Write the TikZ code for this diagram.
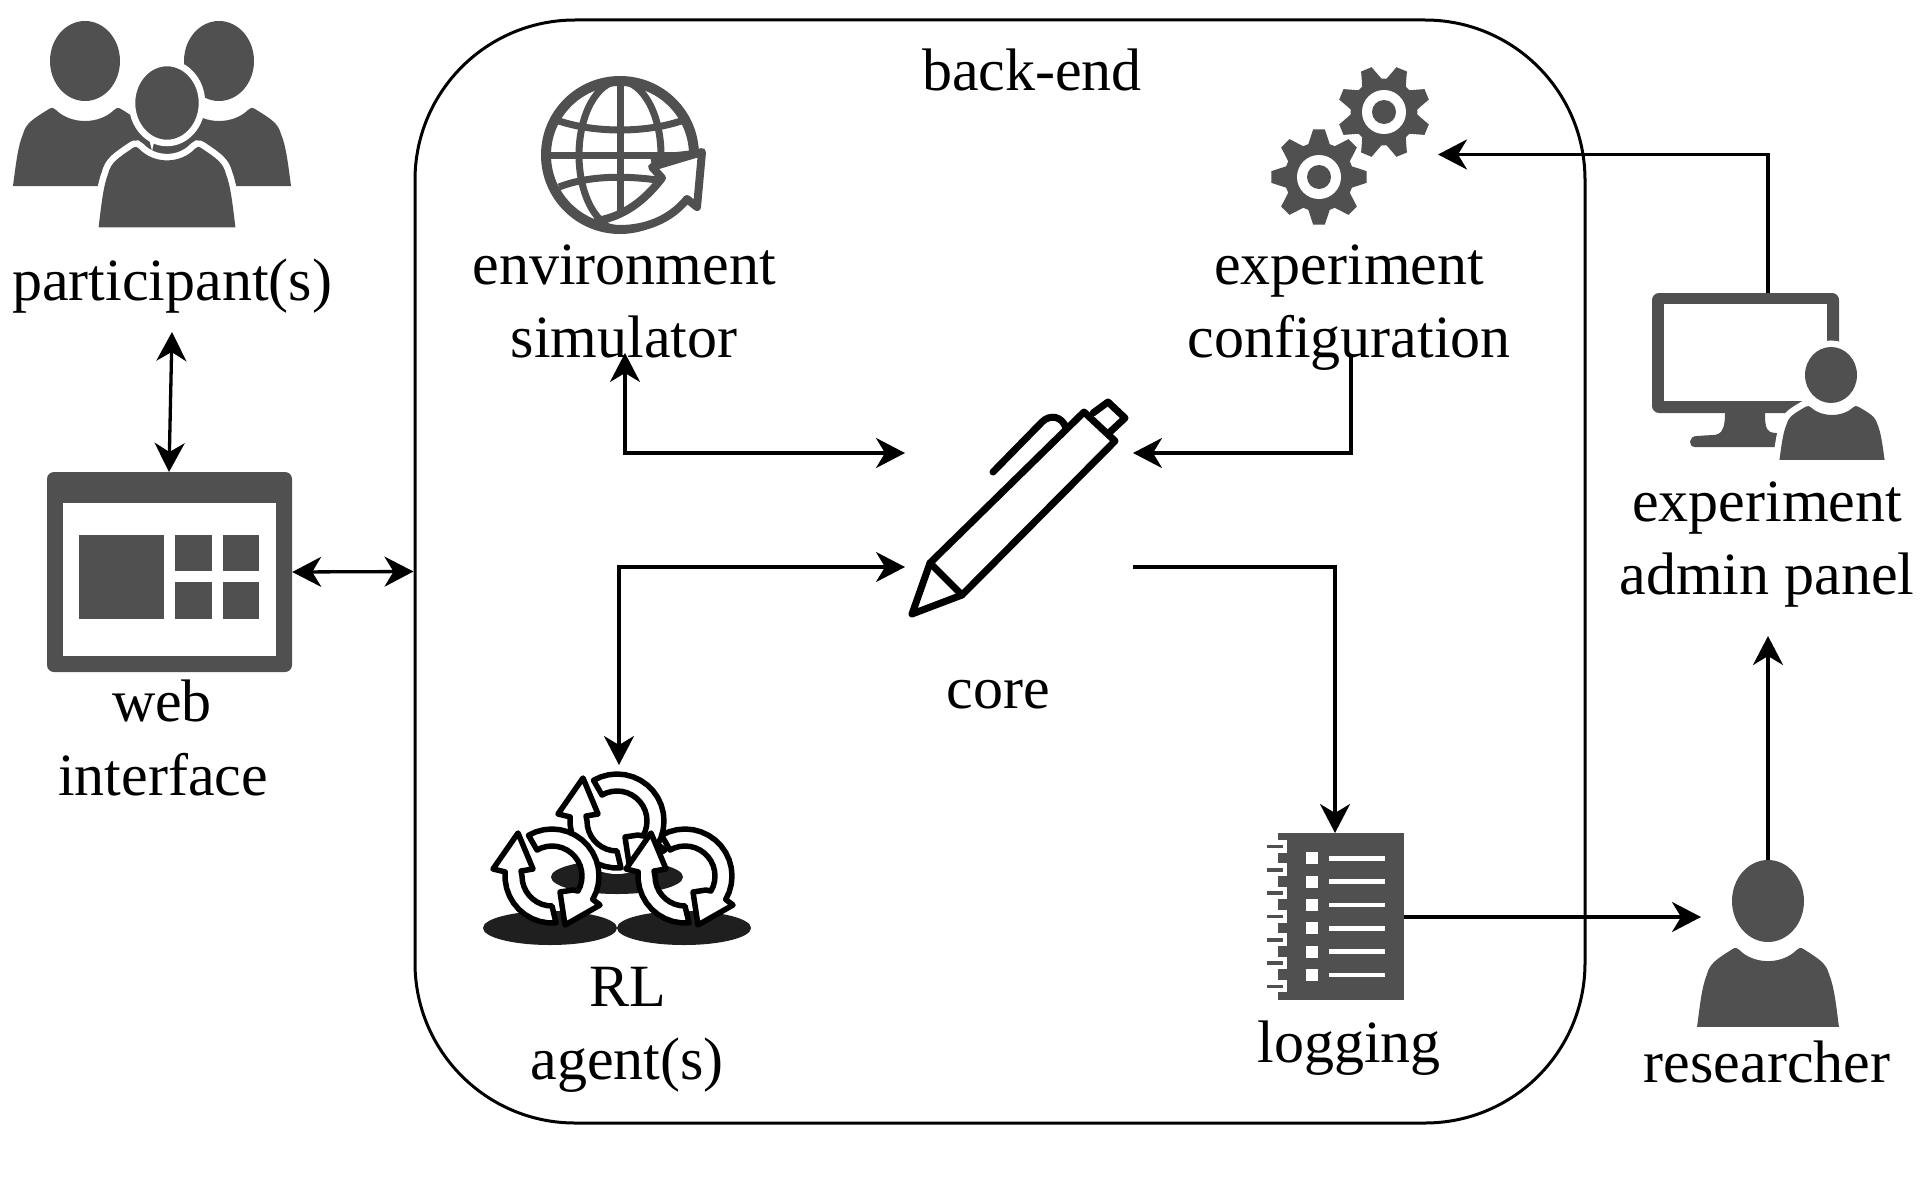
\documentclass[tikz,border=0pt]{standalone}
\usepackage{fontspec}
\setmainfont{Liberation Serif}
\usetikzlibrary{arrows.meta}
\definecolor{ink}{HTML}{505050}
\tikzset{
  label/.style={anchor=base,inner sep=0pt,align=center,font=\fontsize{60}{73}\selectfont},
  conn/.style={line width=3.3pt,black,>={Stealth[length=29pt,width=30pt,inset=9pt]}},
  panel/.style={fill=ink,inner sep=0pt,rounded corners=7pt},
  pen/.style={draw=black,line width=7pt,line join=round,line cap=round},
  loopshape/.style={draw=black,fill=white,line width=5.5pt,line join=round},
  halo/.style={fill=ink,draw=white,line width=13pt}
}
\newcommand\bodyat[5]{%
  \path[#5,shift={(#1,#2)},xscale=#3,yscale=#4]
    (-72,78) .. controls (-69,55) and (-67,38) .. (-62,26)
    .. controls (-59,15) and (-52,11) .. (-36,1)
    .. controls (-33,-1) and (-31,0) .. (-29,2)
    .. controls (-22,9) and (-11,13) .. (0,13)
    .. controls (11,13) and (22,9) .. (29,2)
    .. controls (31,0) and (33,-1) .. (36,1)
    .. controls (52,11) and (59,15) .. (62,26)
    .. controls (67,38) and (69,55) .. (72,78) -- cycle;}
\newcommand\gearat[4]{%
  \begin{scope}[shift={(#1,#2)}]
    \fill[ink] ({#4-18}:{.72*#3})
      \foreach \k in {0,...,7}{
        -- ({#4+45*\k-18}:{.72*#3}) -- ({#4+45*\k-7}:{#3})
        -- ({#4+45*\k+7}:{#3}) -- ({#4+45*\k+18}:{.72*#3})
      } -- cycle;
    \fill[white] (0,0) circle (22);
    \fill[ink] (0,0) circle (12);
  \end{scope}}
\newcommand\loopat[2]{%
  \begin{scope}[shift={(#1,#2)}]
    % left arrow, pointing up
    \path[loopshape] (4,47)
      \foreach \a in {85,95,...,185}{ -- (\a:47) }
      -- (-59,-7) -- (-34,-43) -- (-19,-7) -- (-31,-5)
      \foreach \a in {180,170,...,90}{ -- (\a:30) } -- cycle;
    % right arrow, pointing down
    \path[loopshape] (240:47)
      \foreach \a in {250,260,...,390}{ -- (\a:47) }
      -- (48,29) -- (13,49) -- (8,16) -- (21,14)
      \foreach \a in {30,20,...,-120}{ -- (\a:30) } -- cycle;
  \end{scope}}
\begin{document}
\begin{tikzpicture}[x=1pt,y=-1pt]
\useasboundingbox (0,0) rectangle (1924,1204);
\fill[white] (0,0) rectangle (1924,1204);

% back-end frame
\node[draw=black,line width=3pt,rounded corners=160pt,minimum width=1170pt,minimum height=1103pt,inner sep=0pt] (backend) at (1000,571.5) {};

% participants
\fill[ink] (85,61) ellipse [x radius=35,y radius=40];
\fill[ink] (219,61) ellipse [x radius=35,y radius=40];
\bodyat{85}{108}{1}{1}{fill=ink}
\bodyat{219}{108}{1}{1}{fill=ink}
\fill[ink,draw=white,line width=6.5pt] (167,103) ellipse [x radius=35,y radius=40];
\bodyat{167}{147}{.95}{1.03}{halo}
\fill[white] (90,227.5) rectangle (250,240);
\bodyat{167}{147}{.95}{1.03}{fill=ink}

% web interface
\node[panel,minimum width=245pt,minimum height=200pt] (web) at (169.5,572) {};
\fill[white] (63,503) rectangle (276,656);
\fill[ink] (79,535) rectangle (164,619);
\fill[ink] (175,535) rectangle (212,571);
\fill[ink] (223,535) rectangle (259,571);
\fill[ink] (175,582) rectangle (212,619);
\fill[ink] (223,582) rectangle (259,619);

% globe
\begin{scope}[draw=ink,line width=7pt]
  \draw (546,155) -- (694,155);
  \draw (620,81) -- (620,229);
  \draw (620,155) ellipse [x radius=41,y radius=74];
  \draw (559,121) .. controls (595,133) and (645,133) .. (681,121);
  \draw (559,187) .. controls (590,175) and (630,175) .. (670,182);
\end{scope}
\draw[ink,line width=10pt] (620,155) circle (74);
\fill[ink] (650,155) -- (694,150) -- (652,167) -- cycle;
\path[draw=ink,fill=white,line width=8pt,line join=round]
  (597,221) .. controls (625,216) and (645,200) .. (662,178) -- (652,167) -- (702,152)
  -- (697,207) -- (687,199) .. controls (670,220) and (645,229) .. (620,229)
  .. controls (612,229) and (604,227) .. (597,221) -- cycle;

% gears
\gearat{1384}{112}{46.5}{22.5}
\gearat{1319}{177}{48}{0}

% pen (core)
\draw[pen] (912,614) -- (930,563) -- (1084,412) -- (1115,441) -- (962,595) -- cycle;
\draw[pen] (930,563) -- (962,595);
\draw[pen] (1093,413) -- (1108,402) -- (1125,418) -- (1110,432);
\draw[pen] (993,472) -- (1042,422) .. controls (1050,414) and (1062,416) .. (1066,428);

% RL agents
\fill[black!88] (550,928) ellipse [x radius=67,y radius=17];
\fill[black!88] (684,928) ellipse [x radius=67,y radius=17];
\fill[black!88] (617,877) ellipse [x radius=66,y radius=17];
\fill[white] (617,821) circle (53);
\loopat{617}{821}
\loopat{552}{876}
\loopat{685}{876}

% notebook
\node[fill=ink,inner sep=0pt,minimum width=126pt,minimum height=167pt] (notes) at (1341,916.5) {};
\foreach \i in {0,...,6}{
  \fill[white] ({1278},{840+23.33*\i}) rectangle (1287,{852.5+23.33*\i});
  \fill[ink] (1267,{844.7+23.33*\i}) rectangle (1283,{848.3+23.33*\i});
}
\foreach \i in {0,...,5}{
  \fill[white] (1306,{852.3+23.33*\i}) rectangle (1318,{864.3+23.33*\i});
  \fill[white] (1329,{856+23.33*\i}) rectangle (1385,{860.5+23.33*\i});
}

% monitor with admin
\fill[ink,rounded corners=7pt] (1652,293) rectangle (1839,413);
\fill[white] (1664,304) rectangle (1827,401);
\fill[ink,rounded corners=3pt] (1725,410) .. controls (1725,440) and (1715,434) .. (1700,436)
  .. controls (1688,436) and (1688,447) .. (1698,447) -- (1790,447) -- (1790,433)
  -- (1773,433) .. controls (1765,430) and (1765,420) .. (1765,410) -- cycle;
\fill[ink,draw=white,line width=13pt] (1831,375) ellipse [x radius=26,y radius=28];
\bodyat{1832}{406}{.73}{.69}{halo}
\fill[white] (1770,460.5) rectangle (1895,470);
\bodyat{1832}{406}{.73}{.69}{fill=ink}
\fill[ink] (1831,375) ellipse [x radius=26,y radius=28];

% researcher
\fill[ink] (1768,901) ellipse [x radius=36,y radius=41];
\bodyat{1768}{948}{.985}{1.01}{fill=ink}

% labels
\node[label] (lbackend) at (1032,91) {back-end};
\node[label] (lenv) at (624,284) {environment};
\node[label] (lsim) at (624,357) {simulator};
\node[label] (lexp) at (1349,284) {experiment};
\node[label] (lconf) at (1349,357) {configuration};
\node[label] (lpart) at (172,300) {participant(s)};
\node[label] (lweb) at (162,721) {web};
\node[label] (lint) at (163,795) {interface};
\node[label] (lcore) at (998,708) {core};
\node[label] (lrl) at (628,1006) {RL};
\node[label] (lagent) at (627,1079) {agent(s)};
\node[label] (llog) at (1349,1062) {logging};
\node[label] (lres) at (1767,1082) {researcher};
\node[label] (ladm) at (1767,521) {experiment};
\node[label] (lpan) at (1767,594) {admin panel};

% connector ends
\coordinate (partS) at (172,332);
\coordinate (webN) at (169,472);
\coordinate (envS) at (625,353);
\coordinate (coreWu) at (905,453);
\coordinate (confS) at (1351,356);
\coordinate (coreEu) at (1133,453);
\coordinate (agentN) at (619,765);
\coordinate (coreWd) at (905,567);
\coordinate (coreEd) at (1133,567);
\coordinate (logN) at (1335,833);
\coordinate (logE) at (1404,917);
\coordinate (resW) at (1701,917);
\coordinate (monN) at (1768,293);
\coordinate (gearE) at (1438,154.5);
\coordinate (resN) at (1768,860);
\coordinate (panS) at (1768,636);

% connectors
\draw[conn,<->] (partS) -- (webN);
\draw[conn,<->] (web.east) -- (backend.west);
\draw[conn,<->] (envS) |- (coreWu);
\draw[conn,->] (confS) |- (coreEu);
\draw[conn,<->] (agentN) |- (coreWd);
\draw[conn,->] (coreEd) -| (logN);
\draw[conn,->] (logE) -- (resW);
\draw[conn,->] (monN) |- (gearE);
\draw[conn,->] (resN) -- (panS);
\end{tikzpicture}
\end{document}
